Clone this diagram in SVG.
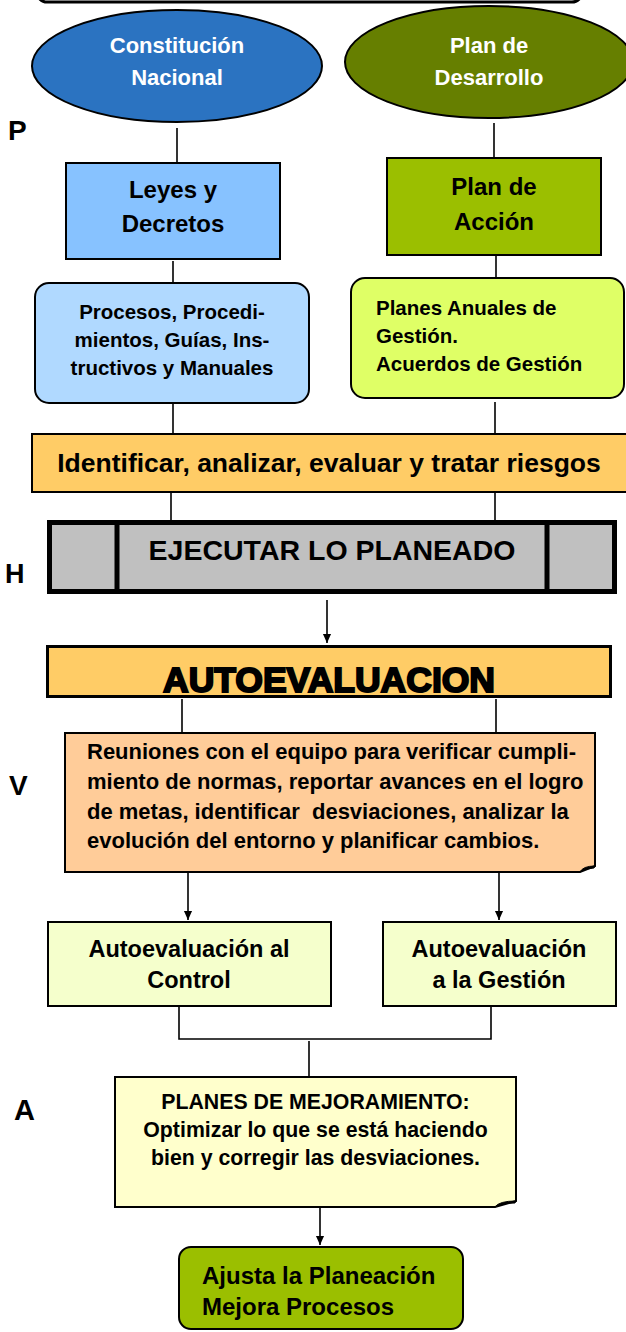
<svg xmlns="http://www.w3.org/2000/svg" width="626" height="1332" viewBox="0 0 626 1332">
<style>
text{font-family:"Liberation Sans",Arial,sans-serif;font-weight:bold;fill:#000}
.w{fill:#fff}
.c{text-anchor:middle}
.box{stroke:#000;stroke-width:2}
.ln{stroke:#000;stroke-width:1.6;fill:none}
</style>
<defs>
<marker id="arr" markerWidth="9" markerHeight="10" refX="10" refY="4.5" orient="auto" markerUnits="userSpaceOnUse" viewBox="0 0 10 9">
<path d="M0,0 L10,4.5 L0,9 Z" fill="#000"/>
</marker>
</defs>

<g id="topbar"><rect x="37" y="-30" width="545" height="32" rx="10" fill="#fff" stroke="#000" stroke-width="3"/></g>

<g id="labels">
<text x="8" y="140" font-size="28">P</text>
<text x="5" y="583" font-size="27">H</text>
<text x="9" y="795" font-size="28">V</text>
<text x="14" y="1120" font-size="29">A</text>
</g>

<g id="connectors">
<line class="ln" x1="177" y1="128" x2="177" y2="163"/>
<line class="ln" x1="494" y1="123" x2="494" y2="158"/>
<line class="ln" x1="173" y1="261" x2="173" y2="283"/>
<line class="ln" x1="496" y1="256" x2="496" y2="278"/>
<line class="ln" x1="173" y1="404" x2="173" y2="434"/>
<line class="ln" x1="495" y1="402" x2="495" y2="434"/>
<line class="ln" x1="171" y1="492" x2="171" y2="520"/>
<line class="ln" x1="495" y1="492" x2="495" y2="520"/>
<line class="ln" x1="327" y1="600" x2="327" y2="643" marker-end="url(#arr)"/>
<line class="ln" x1="182" y1="699" x2="182" y2="733"/>
<line class="ln" x1="496" y1="699" x2="496" y2="733"/>
<line class="ln" x1="188" y1="873" x2="188" y2="920" marker-end="url(#arr)"/>
<line class="ln" x1="499" y1="873" x2="499" y2="920" marker-end="url(#arr)"/>
<polyline class="ln" points="179,1007 179,1039 491,1039 491,1007"/>
<line class="ln" x1="309" y1="1041" x2="309" y2="1077"/>
<line class="ln" x1="320" y1="1208" x2="320" y2="1245" marker-end="url(#arr)"/>
</g>

<g id="constitucion">
<ellipse cx="177" cy="66" rx="145" ry="56" fill="#2B73C1" stroke="#000" stroke-width="2"/>
<text class="w c" x="177" y="53" font-size="22">Constitución</text>
<text class="w c" x="177" y="85" font-size="22">Nacional</text>
</g>

<g id="plandesarrollo">
<ellipse cx="489" cy="62" rx="144" ry="56" fill="#667F00" stroke="#000" stroke-width="2"/>
<text class="w c" x="489" y="53" font-size="22">Plan de</text>
<text class="w c" x="489" y="85" font-size="22">Desarrollo</text>
</g>

<g id="leyes">
<rect class="box" x="66" y="163" width="214" height="96" fill="#87C2FF"/>
<text class="c" x="173" y="198" font-size="24">Leyes y</text>
<text class="c" x="173" y="232" font-size="24">Decretos</text>
</g>

<g id="planaccion">
<rect class="box" x="387" y="158" width="214" height="97" fill="#9BBF00"/>
<text class="c" x="494" y="195" font-size="24">Plan de</text>
<text class="c" x="494" y="230" font-size="24">Acción</text>
</g>

<g id="procesos">
<rect class="box" x="35" y="283" width="274" height="120" rx="14" fill="#B0D9FF"/>
<text class="c" x="172" y="319" font-size="20.5">Procesos, Procedi-</text>
<text class="c" x="172" y="347" font-size="20.5">mientos, Guías, Ins-</text>
<text class="c" x="172" y="375" font-size="20.5">tructivos y Manuales</text>
</g>

<g id="planesanuales">
<rect class="box" x="351" y="278" width="273" height="120" rx="14" fill="#DFFF66"/>
<text x="376" y="315" font-size="20.5">Planes Anuales de</text>
<text x="376" y="343" font-size="20.5">Gestión.</text>
<text x="376" y="371" font-size="20.5">Acuerdos de Gestión</text>
</g>

<g id="riesgos">
<rect class="box" x="32" y="434" width="600" height="58" fill="#FFCC66"/>
<text class="c" x="329" y="472" font-size="26.5">Identificar, analizar, evaluar y tratar riesgos</text>
</g>

<g id="ejecutar">
<rect x="49.5" y="522.5" width="565" height="69" fill="#C0C0C0" stroke="#000" stroke-width="5"/>
<line x1="117" y1="522" x2="117" y2="592" stroke="#000" stroke-width="5"/>
<line x1="547" y1="522" x2="547" y2="592" stroke="#000" stroke-width="5"/>
<text class="c" x="332" y="560" font-size="28.5" fill="#111">EJECUTAR LO PLANEADO</text>
</g>

<g id="autoevaluacion">
<rect x="47.5" y="646.5" width="563" height="50" fill="#FFCC66" stroke="#000" stroke-width="3"/>
<text class="c" x="329" y="692" font-size="35.5" stroke="#000" stroke-width="2">AUTOEVALUACION</text>
</g>

<g id="reuniones">
<path class="box" d="M65,733 H595 V866 L580,872 H65 Z" fill="#FFCC99"/>
<path d="M580,872 Q583,866 595,866 L594,868 Q586,868 580,872 Z" fill="#000" stroke="#000" stroke-width="1"/>
<text x="87" y="759" font-size="22">Reuniones con el equipo para verificar cumpli-</text>
<text x="87" y="789" font-size="22">miento de normas, reportar avances en el logro</text>
<text x="87" y="819" font-size="22" style="white-space:pre">de metas, identificar  desviaciones, analizar la</text>
<text x="87" y="848" font-size="22">evolución del entorno y planificar cambios.</text>
</g>

<g id="autocontrol">
<rect class="box" x="48" y="922" width="283" height="84" fill="#F5FFCC"/>
<text class="c" x="189" y="957" font-size="23.5">Autoevaluación al</text>
<text class="c" x="189" y="988" font-size="23.5">Control</text>
</g>

<g id="autogestion">
<rect class="box" x="383" y="922" width="233" height="84" fill="#F5FFCC"/>
<text class="c" x="499" y="957" font-size="23.5">Autoevaluación</text>
<text class="c" x="499" y="988" font-size="23.5">a la Gestión</text>
</g>

<g id="planesmejoramiento">
<path class="box" d="M115,1077 H516 V1201 L495,1207 H115 Z" fill="#FFFFCC"/>
<path d="M495,1207 Q499,1201 516,1201 L515,1203 Q501,1203 495,1207 Z" fill="#000" stroke="#000" stroke-width="1"/>
<text class="c" x="315.5" y="1109" font-size="21.3">PLANES DE MEJORAMIENTO:</text>
<text class="c" x="315.5" y="1137" font-size="21.3">Optimizar lo que se está haciendo</text>
<text class="c" x="315.5" y="1165" font-size="21.3">bien y corregir las desviaciones.</text>
</g>

<g id="ajusta">
<rect class="box" x="179" y="1247" width="284" height="82" rx="12" fill="#9BBF00"/>
<text x="202" y="1284" font-size="24">Ajusta la Planeación</text>
<text x="202" y="1315" font-size="24">Mejora Procesos</text>
</g>
</svg>
